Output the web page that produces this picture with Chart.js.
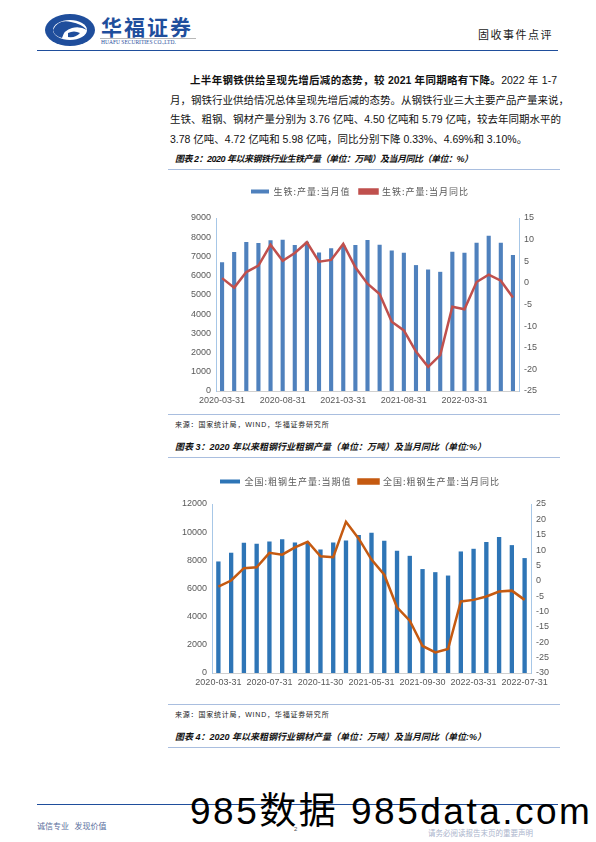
<!DOCTYPE html>
<html>
<head>
<meta charset="utf-8">
<script src="https://cdn.jsdelivr.net/npm/chart.js@4.4.0/dist/chart.umd.min.js"></script>
<style>
  html, body { margin: 0; padding: 0; background: #fff; }
  body { width: 596px; height: 842px; position: relative; overflow: hidden;
         font-family: "Liberation Sans", "Noto Sans CJK SC", sans-serif; color: #111; }
  .abs { position: absolute; white-space: nowrap; }
  .hline { position: absolute; height: 0; }
  .para { position: absolute; left: 170px; width: 387px; font-size: 10.5px; line-height: 14px;
          text-align: justify; text-align-last: justify; white-space: nowrap; }
  .fig-title { position: absolute; left: 175px; font-size: 9px; font-weight: bold; font-style: italic; }
  .src { position: absolute; left: 175px; font-size: 7px; letter-spacing: 0.8px; color: #222; }
  .chart-box { position: absolute; }
</style>
</head>
<body>

<!-- header -->
<svg class="abs" style="left:44px;top:13px" width="54" height="34" viewBox="0 0 54 34">
  <ellipse cx="26" cy="17" rx="25" ry="16" fill="#1f4e9c"/>
  <ellipse cx="26" cy="17" rx="17" ry="10" fill="#fff"/>
  <path d="M9 17 Q14 6 27 9 Q38 11 43 17 Q36 13 28 15 Q20 17 18 25 Q10 23 9 17 Z" fill="#1f4e9c"/>
  <path d="M24 20 Q30 17 36 20 Q32 25 24 24 Z" fill="#1f4e9c"/>
</svg>
<div class="abs" style="left:101px;top:11px;font-size:21px;font-weight:bold;letter-spacing:2px;color:#1f4e9c;font-family:'Noto Sans CJK SC'">华福证券</div>
<div class="hline" style="left:100px;top:38px;width:96px;border-top:1px solid #b8b8b8"></div>
<div class="abs" style="left:101px;top:39px;font-size:5.5px;color:#1f4e9c;font-family:'Liberation Serif'">HUAFU SECURITIES CO.,LTD.</div>
<div class="abs" style="left:478px;top:26px;font-size:11px;letter-spacing:1.5px;color:#222;font-family:'Noto Sans CJK SC'">固收事件点评</div>
<div class="hline" style="left:37px;top:50px;width:521px;border-top:1.5px solid #1f4e9c"></div>

<!-- body text -->
<div class="para" style="top:73px;left:190px;width:367px"><b>上半年钢铁供给呈现先增后减的态势，较 2021 年同期略有下降。</b>2022 年 1-7</div>
<div class="para" style="top:93px">月，钢铁行业供给情况总体呈现先增后减的态势。从钢铁行业三大主要产品产量来说，</div>
<div class="para" style="top:112px">生铁、粗钢、钢材产量分别为 3.76 亿吨、4.50 亿吨和 5.79 亿吨，较去年同期水平的</div>
<div class="para" style="top:132px;text-align-last:left">3.78 亿吨、4.72 亿吨和 5.98 亿吨，同比分别下降 0.33%、4.69%和 3.10%。</div>

<div class="fig-title" style="top:152px;letter-spacing:-0.5px">图表 2：2020 年以来钢铁行业生铁产量（单位：万吨）及当月同比（单位：%）</div>
<div class="hline" style="left:168px;top:169px;width:392px;border-top:1.5px solid #a9bedf"></div>

<div class="chart-box" style="left:160px;top:178px;width:400px;height:236px"><canvas id="ironChart"></canvas></div>

<div class="hline" style="left:168px;top:414px;width:392px;border-top:1.5px solid #a9bedf"></div>
<div class="src" style="top:419px">来源：国家统计局，WIND，华福证券研究所</div>

<div class="fig-title" style="top:440px">图表 3：2020 年以来粗钢行业粗钢产量（单位：万吨）及当月同比（单位:%）</div>
<div class="hline" style="left:168px;top:457px;width:392px;border-top:1.5px solid #a9bedf"></div>

<div class="chart-box" style="left:160px;top:470px;width:400px;height:226px"><canvas id="steelChart"></canvas></div>

<div class="hline" style="left:168px;top:704px;width:392px;border-top:1.5px solid #a9bedf"></div>
<div class="src" style="top:709px">来源：国家统计局，WIND，华福证券研究所</div>

<div class="fig-title" style="top:730px">图表 4：2020 年以来粗钢行业钢材产量（单位：万吨）及当月同比（单位:%）</div>
<div class="hline" style="left:168px;top:747px;width:392px;border-top:1.5px solid #a9bedf"></div>

<!-- footer -->
<div class="hline" style="left:37px;top:804px;width:521px;border-top:1px solid #1f4e9c"></div>
<div class="abs" style="left:37px;top:820px;font-size:8px;color:#5a6e9c;font-family:'Noto Sans CJK SC'">诚信专业&nbsp;&nbsp;&nbsp;发现价值</div>
<div class="abs" style="left:294px;top:826px;font-size:6px;color:#555">2</div>
<div class="abs" style="left:428px;top:827px;font-size:7.5px;color:#aab4cc;font-family:'Noto Sans CJK SC'">请务必阅读报告末页的重要声明</div>
<div class="abs" style="left:190px;top:792px;font-size:37px;line-height:40px;letter-spacing:2.5px;color:#000">985数据 985data.com</div>

<script>
// shared months (Jan/Feb not reported separately)
const months = [
  '2020-03-31', '2020-04-30', '2020-05-31', '2020-06-30', '2020-07-31', '2020-08-31',
  '2020-09-30', '2020-10-31', '2020-11-30', '2020-12-31',
  '2021-03-31', '2021-04-30', '2021-05-31', '2021-06-30', '2021-07-31', '2021-08-31',
  '2021-09-30', '2021-10-31', '2021-11-30', '2021-12-31',
  '2022-03-31', '2022-04-30', '2022-05-31', '2022-06-30', '2022-07-31'
]

// pig iron output (10k t) and yoy (%)
const ironOutput = [6700, 7230, 7750, 7700, 7840, 7870, 7590, 7760, 7210, 7420,
                    7580, 7600, 7850, 7610, 7310, 7190, 6550, 6320, 6200, 7240,
                    7190, 7710, 8080, 7710, 7070]
const ironYoy = [1.1, -1.1, 2.5, 4.0, 8.8, 5.1, 6.9, 9.4, 4.9, 5.3,
                 9.0, 3.6, -0.2, -2.6, -9.0, -11.0, -15.9, -19.4, -16.7, -5.5,
                 -6.1, 0.2, 1.9, 0.5, -3.4]
const ironLeftTicks = [0, 9000, 1000]
const ironRightTicks = [-25, 15, 5]

// crude steel output (10k t) and yoy (%)
const steelOutput = [7920, 8540, 9250, 9180, 9340, 9490, 9270, 9300, 8770, 9270,
                     9410, 9790, 9960, 9390, 8680, 8320, 7380, 7160, 6920, 8630,
                     8820, 9300, 9650, 9080, 8160]
const steelYoy = [-1.9, 0.1, 4.1, 4.4, 9.1, 8.5, 10.9, 12.7, 8.0, 7.7,
                  19.2, 13.7, 6.9, 2.0, -8.6, -13.0, -21.2, -23.3, -22.2, -6.7,
                  -6.2, -5.1, -3.5, -3.2, -6.2]
const steelLeftTicks = [0, 12000, 2000]
const steelRightTicks = [-30, 25, 5]

const tickFont = {family: 'Liberation Sans', size: 9}
const legendFont = {family: 'Noto Sans CJK SC', size: 9}
const axisBlue = '#a7c7e7'
const gray = '#595959'

// push the plot down below the legend by a fixed gap
const legendGap = {
  id: 'legendGap',
  beforeInit(chart, args, opts) {
    const fit = chart.legend.fit
    chart.legend.fit = function () {
      this.ctx.save()
      this.ctx.letterSpacing = '1px'
      fit.call(this)
      this.ctx.restore()
      this.height += opts.extra
    }
    const draw = chart.legend.draw
    chart.legend.draw = function () {
      this.ctx.save()
      this.ctx.letterSpacing = '1px'
      draw.call(this)
      this.ctx.restore()
    }
  }
}

const makeChart = (canvasId, cfg) => {
  return new Chart(document.getElementById(canvasId), {
    data: {
      labels: months,
      datasets: [{
        type: 'line',
        label: cfg.lineLabel,
        data: cfg.yoy,
        yAxisID: 'y1',
        borderColor: cfg.lineColor,
        backgroundColor: cfg.lineColor,
        borderWidth: 2.5,
        pointRadius: 0,
        tension: 0,
        order: 0
      }, {
        type: 'bar',
        label: cfg.barLabel,
        data: cfg.output,
        yAxisID: 'y',
        backgroundColor: cfg.barColor,
        barPercentage: 0.34,
        categoryPercentage: 1,
        order: 1
      }]
    },
    plugins: [legendGap],
    options: {
      responsive: true,
      maintainAspectRatio: false,
      animation: false,
      layout: {padding: 0},
      plugins: {
        legendGap: {extra: cfg.gap},
        legend: {
          position: 'top',
          reverse: true,
          labels: {
            boxWidth: cfg.boxW, boxHeight: 4, padding: cfg.legendPad,
            color: gray, font: legendFont
          }
        },
        tooltip: {enabled: false}
      },
      scales: {
        x: {
          grid: {display: false, drawTicks: false},
          border: {color: '#d0d0d0'},
          ticks: {
            autoSkip: false, maxRotation: 0, color: gray, font: tickFont, padding: 4,
            callback: (v, i) => i % cfg.labelEvery === 0 ? months[i] : ''
          },
          afterFit: s => { s.height = cfg.xHeight }
        },
        y: {
          position: 'left',
          min: cfg.leftTicks[0], max: cfg.leftTicks[1],
          grid: {display: false, drawTicks: false},
          border: {color: axisBlue},
          ticks: {stepSize: cfg.leftTicks[2], color: gray, font: tickFont, padding: 5,
                  callback: v => String(v)},
          afterFit: s => { s.width = cfg.leftW }
        },
        y1: {
          position: 'right',
          min: cfg.rightTicks[0], max: cfg.rightTicks[1],
          grid: {display: false, drawTicks: false},
          border: {color: axisBlue},
          ticks: {stepSize: cfg.rightTicks[2], color: gray, font: tickFont, padding: 5,
                  callback: v => String(v)},
          afterFit: s => { s.width = cfg.rightW }
        }
      }
    }
  })
}

makeChart('ironChart', {
  output: ironOutput, yoy: ironYoy,
  barLabel: '生铁:产量:当月值', lineLabel: '生铁:产量:当月同比',
  barColor: '#4f81bd', lineColor: '#c0504d',
  leftTicks: ironLeftTicks, rightTicks: ironRightTicks,
  labelEvery: 5, leftW: 56, rightW: 41, xHeight: 23,
  legendPad: 9, gap: 12, boxW: 18
})

makeChart('steelChart', {
  output: steelOutput, yoy: steelYoy,
  barLabel: '全国:粗钢生产量:当期值', lineLabel: '全国:粗钢生产量:当月同比',
  barColor: '#2e75b6', lineColor: '#c55a11',
  leftTicks: steelLeftTicks, rightTicks: steelRightTicks,
  labelEvery: 4, leftW: 52, rightW: 29, xHeight: 23,
  legendPad: 7, gap: 8, boxW: 20
})
</script>
</body>
</html>
